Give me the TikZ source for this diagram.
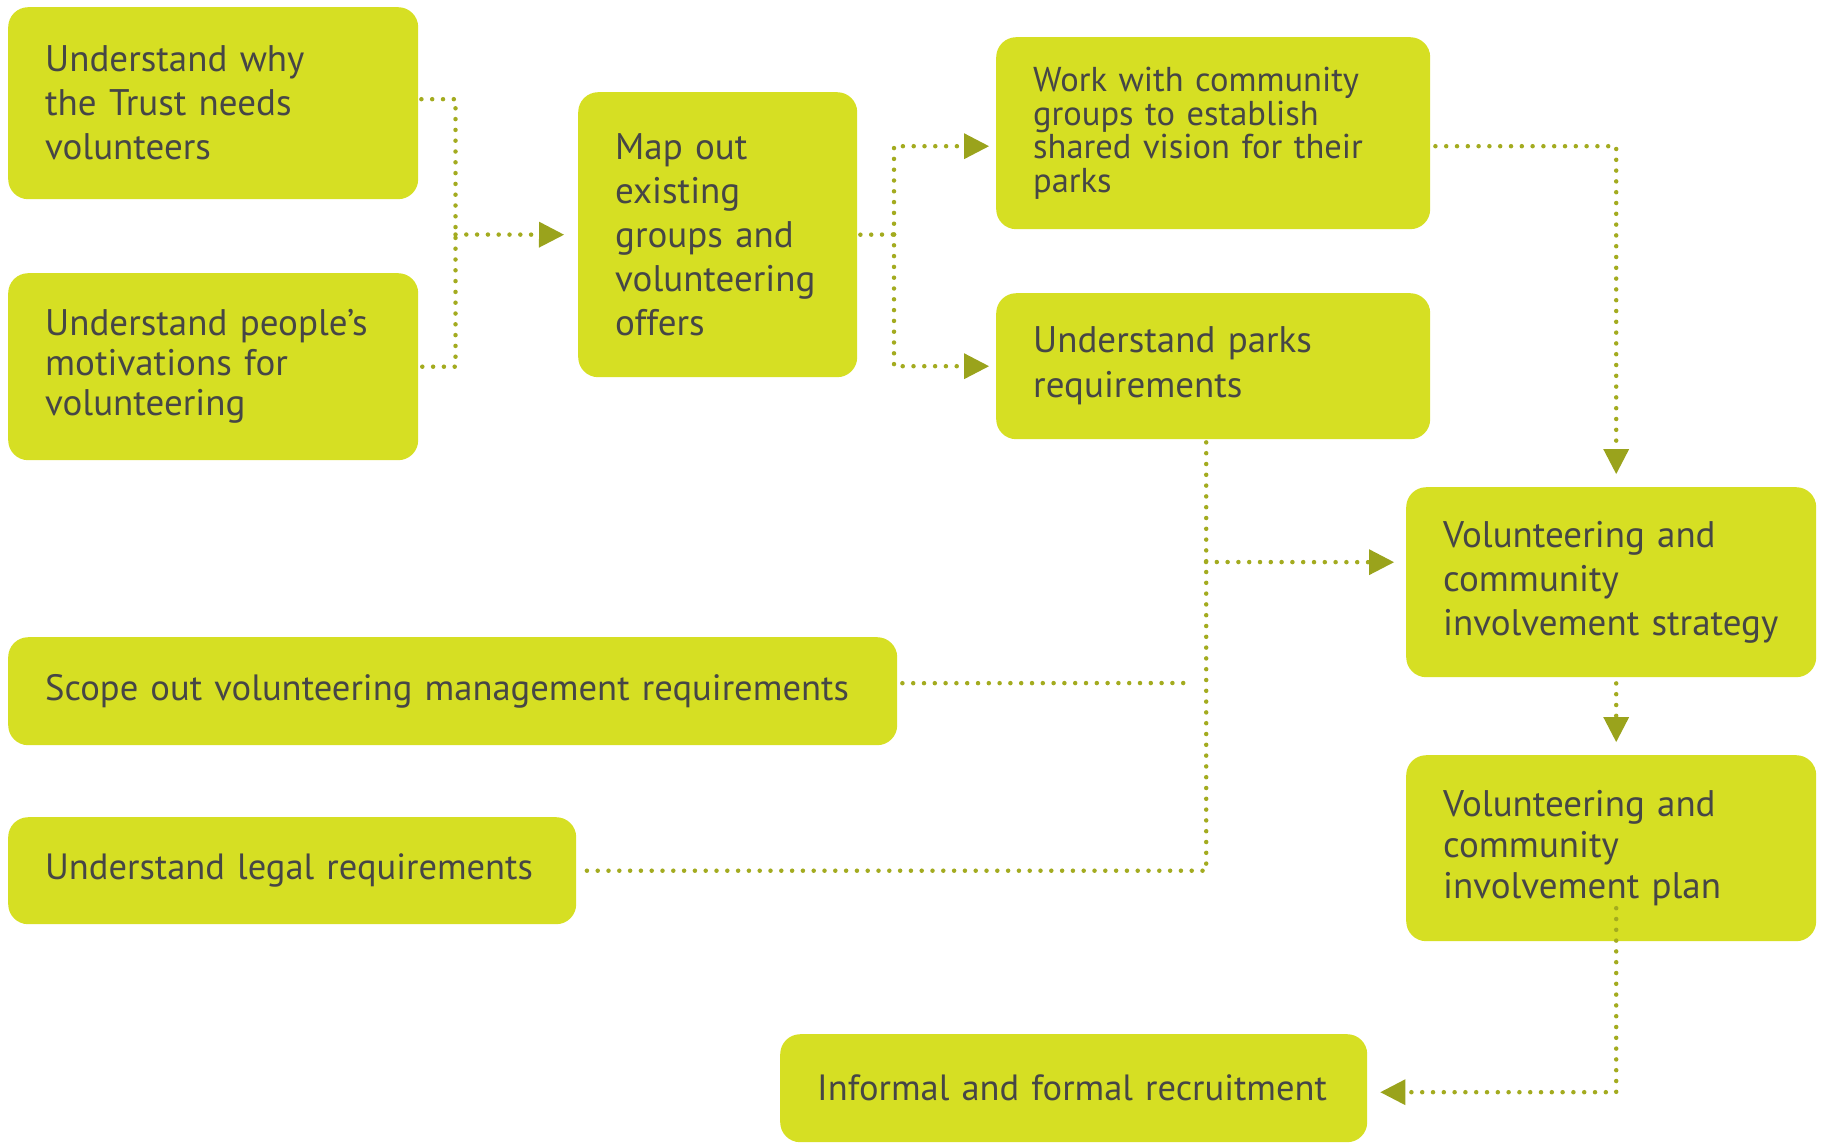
\documentclass[tikz,border=0pt]{standalone}
\usepackage{fontspec}
\setmainfont{PT Sans}
\usetikzlibrary{arrows.meta}
\definecolor{boxfill}{HTML}{D6DF23}
\definecolor{ink}{HTML}{464646}
\definecolor{dotc}{HTML}{A3AB1F}
\definecolor{tipc}{HTML}{9AA31C}
\tikzset{
  stepbox/.style={fill=boxfill, rounded corners=20pt, inner ysep=0pt, inner xsep=37pt,
    text=ink, align=left, anchor=north west,
    font=\fontsize{37}{44}\selectfont},
  dotline/.style={draw=dotc, line width=4.5pt, line cap=round, dash pattern=on 0pt off 10.8pt},
  arrowed/.style={-{Triangle[length=25pt,width=26pt,color=tipc,line width=0pt]}}
}
\begin{document}
\begin{tikzpicture}[x=1pt,y=-1pt]
\useasboundingbox (0,0) rectangle (1825,1143);

% process boxes
\node[stepbox, minimum width=410pt, minimum height=192pt, text width=336pt] (why) at (8,7)
  {Understand why\\the Trust needs\\volunteers};
\node[stepbox, minimum width=410pt, minimum height=187pt, text width=336pt,
  font=\fontsize{37}{40}\selectfont] (mot) at (8,273)
  {Understand people’s\\motivations for\\volunteering};
\node[stepbox, minimum width=279pt, minimum height=285pt, text width=205pt] (map) at (578,92)
  {Map out\\existing\\groups and\\volunteering\\offers};
\node[stepbox, minimum width=434pt, minimum height=192pt, text width=360pt,
  font=\fontsize{34.5}{33.5}\selectfont] (work) at (996,37)
  {\mbox{Work with community}\\\mbox{groups to establish}\\\mbox{shared vision for their}\\parks};
\node[stepbox, minimum width=434pt, minimum height=146pt, text width=360pt,
  font=\fontsize{37}{45}\selectfont] (parks) at (996,293)
  {Understand parks\\requirements};
\node[stepbox, minimum width=410pt, minimum height=190pt, text width=336pt] (strat) at (1406,487)
  {Volunteering and\\community\\\mbox{involvement strategy}};
\node[stepbox, minimum width=410pt, minimum height=186pt, text width=336pt,
  font=\fontsize{37}{41}\selectfont] (plan) at (1406,755)
  {Volunteering and\\community\\involvement plan};
\node[stepbox, minimum width=889pt, minimum height=108pt, text width=815pt,
  font=\fontsize{36.6}{44}\selectfont] (scope) at (8,637)
  {\mbox{Scope out volunteering management requirements}};
\node[stepbox, minimum width=568pt, minimum height=107pt, text width=494pt,
  font=\fontsize{36.5}{44}\selectfont] (legal) at (8,817)
  {\mbox{Understand legal requirements}};
\node[stepbox, minimum width=587pt, minimum height=108pt, text width=513pt,
  font=\fontsize{36.5}{44}\selectfont] (recruit) at (780,1034)
  {\mbox{Informal and formal recruitment}};

% junction points of the dotted connectors
\coordinate (j1) at (455.5,234.5);
\coordinate (j2) at (894,234.5);
\coordinate (j3) at (1206,562);
\coordinate (j5) at (1192,683);

% first two inputs joined into the mapping step
\draw[dotline] ([xshift=3pt,yshift=4pt]why.east) -| (j1) |- ([xshift=3pt]mot.east);
\draw[dotline, arrowed] (j1) -- ([xshift=-14pt]map.west);

% mapping step splits in two
\draw[dotline] ([xshift=3pt]map.east) -- (j2);
\draw[dotline, arrowed] (j2) |- ([xshift=-7pt,yshift=-13pt]work.west);
\draw[dotline, arrowed] (j2) |- ([xshift=-7pt]parks.west);

% community work feeds the strategy
\draw[dotline, arrowed] ([xshift=5pt,yshift=-13pt]work.east) -| ([xshift=5pt,yshift=13pt]strat.north);

% requirements trunk
\draw[dotline] ([xshift=-7pt,yshift=-3pt]parks.south) |- ([xshift=10pt]legal.east);
\draw[dotline, arrowed] (j3) -- ([xshift=-12pt,yshift=20pt]strat.west);
\draw[dotline] ([xshift=5pt,yshift=8pt]scope.east) -- (j5);

% strategy to plan to recruitment
\draw[dotline, arrowed] ([xshift=5pt,yshift=-6pt]strat.south) -- ([xshift=5pt,yshift=13pt]plan.north);
\draw[dotline, arrowed] ([xshift=5pt,yshift=-60pt]plan.center) |- ([xshift=13pt,yshift=-4pt]recruit.east);
\end{tikzpicture}
\end{document}
